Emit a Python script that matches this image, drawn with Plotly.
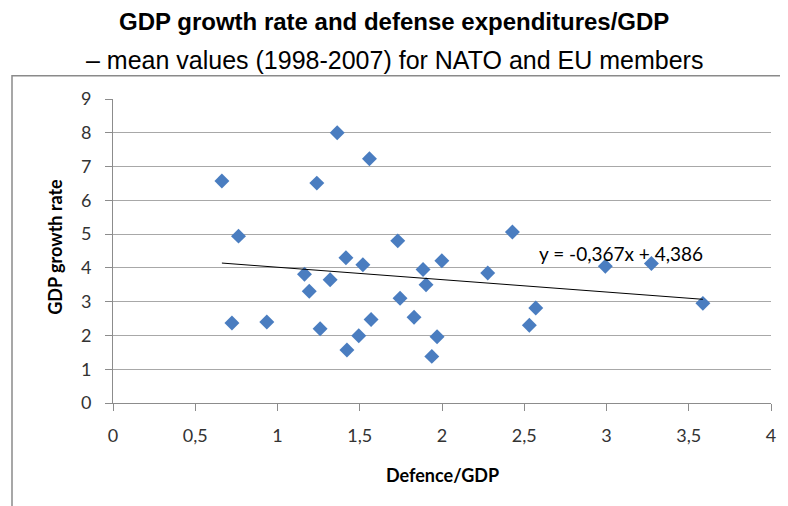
import plotly.graph_objects as go

# Data
defence_gdp = [0.662, 0.763, 1.239, 1.363, 1.559, 1.731, 0.723, 0.935, 1.164, 1.193,
               1.259, 1.320, 1.416, 1.422, 1.494, 1.519, 1.569, 1.745, 1.830, 1.885,
               1.903, 1.938, 1.970, 1.999, 2.278, 2.428, 2.531, 2.570, 2.993, 3.273,
               3.586]
gdp_growth = [6.57, 4.94, 6.51, 8.00, 7.23, 4.80, 2.37, 2.40, 3.81, 3.31,
              2.20, 3.65, 4.30, 1.57, 1.99, 4.09, 2.47, 3.10, 2.54, 3.95,
              3.50, 1.38, 1.96, 4.21, 3.85, 5.06, 2.30, 2.81, 4.05, 4.13,
              2.95]
trend_slope = -0.367
trend_intercept = 4.386
x_ticks = [0, 0.5, 1, 1.5, 2, 2.5, 3, 3.5, 4]
x_tick_labels = ["0", "0,5", "1", "1,5", "2", "2,5", "3", "3,5", "4"]
y_ticks = [0, 1, 2, 3, 4, 5, 6, 7, 8, 9]

trend_x = [min(defence_gdp), max(defence_gdp)]
trend_y = [trend_slope * v + trend_intercept for v in trend_x]

fig = go.Figure()
fig.add_trace(go.Scatter(
    x=defence_gdp, y=gdp_growth, mode="markers",
    marker=dict(symbol="diamond", size=11.5, color="#4A7DC0", line=dict(width=0)),
    showlegend=False, hoverinfo="skip"))
fig.add_trace(go.Scatter(
    x=trend_x, y=trend_y, mode="lines",
    line=dict(color="#000000", width=1), showlegend=False, hoverinfo="skip"))

OFF = 8  # page body margin
W, H = 780, 498
L, T = 113 - OFF, 99.3 - OFF
R = W - (771 - OFF)
B = H - (403.3 - OFF)
pw, ph = W - L - R, H - T - B

def px(xp):
    return (xp - OFF - L) / pw

def py(yp):
    return (H - B - (yp - OFF)) / ph

tick_font = dict(family="Lato", size=18, color="#333333")

fig.update_layout(
    width=W, height=H,
    margin=dict(l=L, r=R, t=T, b=B, autoexpand=False),
    paper_bgcolor="white", plot_bgcolor="white",
    xaxis=dict(range=[0, 4], tickvals=x_ticks, ticktext=x_tick_labels,
               showgrid=False, zeroline=False, showline=True, linecolor="#8C8C8C",
               linewidth=1, ticks="outside", ticklen=7, tickcolor="#8C8C8C",
               tickfont=tick_font, ticklabelstandoff=9, fixedrange=True),
    yaxis=dict(range=[0, 9], tickvals=y_ticks, showgrid=True, gridcolor="#A8A8A8",
               gridwidth=1, zeroline=False, showline=True, linecolor="#8C8C8C",
               linewidth=1, ticks="outside", ticklen=7, tickcolor="#8C8C8C",
               tickfont=tick_font, ticklabelstandoff=10, fixedrange=True),
    shapes=[dict(type="rect", xref="paper", yref="paper",
                 x0=px(12), x1=px(820), y0=py(540), y1=py(76),
                 line=dict(color="#8A8A8A", width=1.5), layer="below")],
    annotations=[
        dict(text="<b>GDP growth rate and defense expenditures/GDP</b>",
             xref="paper", yref="paper", x=px(394), y=py(22),
             xanchor="center", yanchor="middle", showarrow=False,
             font=dict(family="Liberation Sans", size=24, color="#000000")),
        dict(text="– mean values (1998-2007) for NATO and EU members",
             xref="paper", yref="paper", x=px(394), y=py(60),
             xanchor="center", yanchor="middle", showarrow=False,
             font=dict(family="Liberation Sans", size=25, color="#000000")),
        dict(text="<b>GDP growth rate</b>", textangle=-90,
             xref="paper", yref="paper", x=px(55), y=py(247),
             xanchor="center", yanchor="middle", showarrow=False,
             font=dict(family="Lato", size=18, color="#000000")),
        dict(text="<b>Defence/GDP</b>",
             xref="paper", yref="paper", x=px(442), y=py(475),
             xanchor="center", yanchor="middle", showarrow=False,
             font=dict(family="Lato", size=18, color="#000000")),
        dict(text="y = -0,367x + 4,386",
             xref="paper", yref="paper", x=px(537), y=py(254),
             xanchor="left", yanchor="middle", showarrow=False,
             font=dict(family="Lato", size=19, color="#000000")),
    ],
)

fig.write_html("out.html")
